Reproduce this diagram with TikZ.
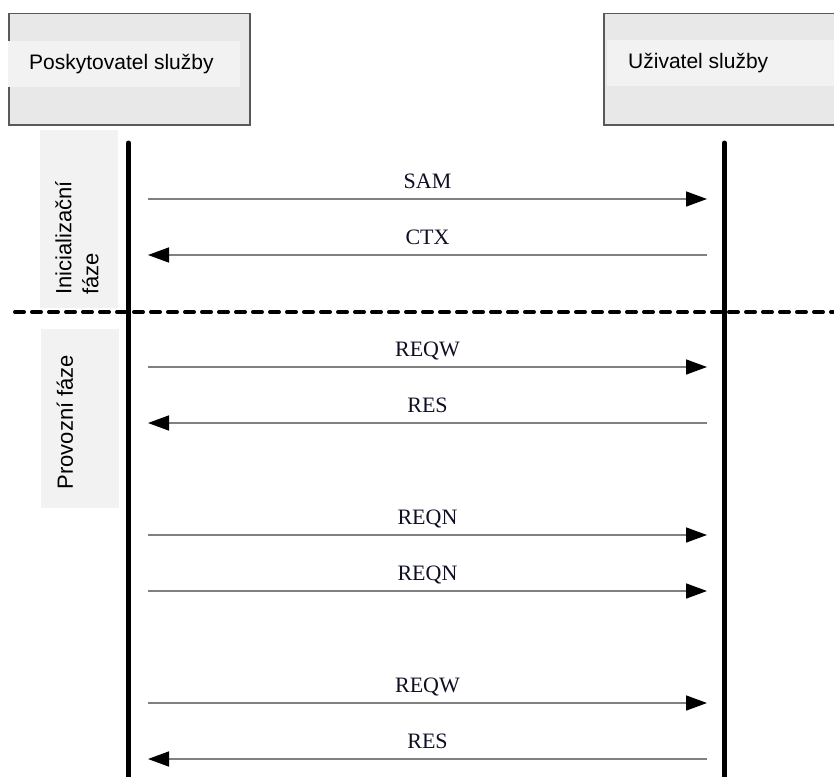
\documentclass[tikz,border=0pt]{standalone}
\usepackage{fontspec}
\setmainfont{Liberation Serif}
\setsansfont{Liberation Sans}
\usetikzlibrary{arrows.meta,positioning}

\tikzset{
  party/.style={draw=cframe,fill=cbox,line width=1.5pt,inner sep=0pt,anchor=north west},
  band/.style={fill=cband,inner sep=0pt,anchor=north west},
  partytext/.style={font=\sffamily\fontsize{21}{25}\selectfont,inner sep=0pt,anchor=west},
  phasebox/.style={fill=cband,inner sep=0pt,anchor=north west,minimum width=78pt},
  phasetext/.style={font=\sffamily\fontsize{22}{27}\selectfont,rotate=90,align=left,inner sep=0pt},
  lifeline/.style={line width=5pt,line cap=round},
  phaseline/.style={line width=4pt,line cap=round,dash pattern=on 9pt off 8pt},
  msg/.style={draw=cmsg,line width=1.5pt,-{Triangle[length=21pt,width=15pt,color=black]}},
  msglabel/.style={midway,anchor=base,yshift=10.5pt,font=\fontsize{22}{26}\selectfont,inner sep=0pt,text=clabel}
}

\begin{document}
\begin{tikzpicture}[x=1pt,y=-1pt]
%
\useasboundingbox (0,0) rectangle (834,776);
\clip (0,0) rectangle (834,776);
%
\definecolor{cbox}{rgb}{0.91,0.91,0.91}
\definecolor{cband}{rgb}{0.95,0.95,0.95}
\definecolor{cframe}{rgb}{0.35,0.35,0.35}
\definecolor{cmsg}{rgb}{0.5,0.5,0.5}
\definecolor{clabel}{rgb}{0.06,0.06,0.14}
%
\node[party,minimum width=241pt,minimum height=111pt] (pbox) at (8,13) {};
\node[band,minimum width=232pt,minimum height=46pt] (pband) at (8,41) {};
\node[partytext,right=21pt of pband.west] (ptext) {Poskytovatel služby};
\node[party,minimum width=260pt,minimum height=111pt] (ubox) at (603,13) {};
\node[band,minimum width=240pt,minimum height=46pt] (uband) at (607,40) {};
\node[partytext,right=21pt of uband.west] (utext) {Uživatel služby};
%
\node[phasebox,minimum height=178pt] (initbox) at (40,130) {};
\node[phasetext] (inittext) at (77,238) {Inicializační\\fáze};
\node[phasebox,minimum height=179pt] (runbox) at (41,329) {};
\node[phasetext] (runtext) at (65,422) {Provozní fáze};
%
\coordinate (ptop) at (128.5,143);
\coordinate (pbot) at (128.5,790);
\coordinate (utop) at (724.5,143);
\coordinate (ubot) at (724.5,790);
\draw[lifeline] (ptop) -- (pbot);
\draw[lifeline] (utop) -- (ubot);
%
\coordinate (dl) at (15,312);
\coordinate (dr) at (845,312);
\draw[phaseline] (dl) -- (dr);
%
\coordinate (p1) at (148,199);
\coordinate (u1) at (707,199);
\coordinate (p2) at (148,255);
\coordinate (u2) at (707,255);
\coordinate (p3) at (148,367);
\coordinate (u3) at (707,367);
\coordinate (p4) at (148,423);
\coordinate (u4) at (707,423);
\coordinate (p5) at (148,535);
\coordinate (u5) at (707,535);
\coordinate (p6) at (148,591);
\coordinate (u6) at (707,591);
\coordinate (p7) at (148,703);
\coordinate (u7) at (707,703);
\coordinate (p8) at (148,759);
\coordinate (u8) at (707,759);
%
\draw[msg] (p1) -- node[msglabel] (m1) {SAM} (u1);
\draw[msg] (u2) -- node[msglabel] (m2) {CTX} (p2);
\draw[msg] (p3) -- node[msglabel] (m3) {REQW} (u3);
\draw[msg] (u4) -- node[msglabel] (m4) {RES} (p4);
\draw[msg] (p5) -- node[msglabel] (m5) {REQN} (u5);
\draw[msg] (p6) -- node[msglabel] (m6) {REQN} (u6);
\draw[msg] (p7) -- node[msglabel] (m7) {REQW} (u7);
\draw[msg] (u8) -- node[msglabel] (m8) {RES} (p8);
%
\end{tikzpicture}
\end{document}
